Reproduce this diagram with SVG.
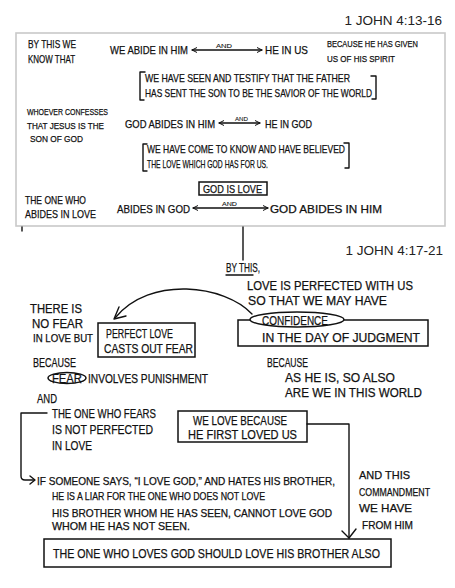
<svg xmlns="http://www.w3.org/2000/svg" width="455" height="588" viewBox="0 0 455 588">
<defs>
<style>
text{font-family:"Liberation Sans",Arial,sans-serif;fill:#111;stroke:#111;stroke-width:0.25;}
.s{font-size:11px;}
.sl{font-size:9.5px;}
.m{font-size:12.5px;}
.p{font-size:10.5px;}
.c{font-size:11px;}
.t{font-size:6px;stroke-width:0.1;}
.h{font-size:13.5px;fill:#222;stroke:none;text-anchor:end;}
.ln{fill:none;stroke:#111;stroke-width:1.4;stroke-linecap:round;stroke-linejoin:round;}
.bx{fill:#fff;stroke:#111;stroke-width:1.5;}
</style>
<marker id="ah" viewBox="0 0 6 6" refX="5.5" refY="3" markerWidth="6" markerHeight="6" orient="auto-start-reverse" markerUnits="userSpaceOnUse">
<path d="M0.5,0.5 L5.5,3 L0.5,5.5" fill="none" stroke="#111" stroke-width="1"/>
</marker>
</defs>
<rect width="455" height="588" fill="#fff"/>

<text class="h" x="442" y="25">1 JOHN 4:13-16</text>

<g id="box1">
<rect x="16" y="33" width="429" height="193" fill="#fff" stroke="#c9c9c9" stroke-width="1.6"/>
</g>

<g id="row1">
<text class="s" x="28" y="48" textLength="48" lengthAdjust="spacingAndGlyphs">BY THIS WE</text>
<text class="s" x="28" y="63" textLength="47" lengthAdjust="spacingAndGlyphs">KNOW THAT</text>
<text class="s" x="110" y="54" textLength="78" lengthAdjust="spacingAndGlyphs">WE ABIDE IN HIM</text>
<text class="t" x="216" y="48" textLength="16" lengthAdjust="spacingAndGlyphs">AND</text>
<text class="s" x="265" y="54" textLength="43" lengthAdjust="spacingAndGlyphs">HE IN US</text>
<text class="sl" x="327" y="47" textLength="91" lengthAdjust="spacingAndGlyphs">BECAUSE HE HAS GIVEN</text>
<text class="sl" x="327" y="62" textLength="68" lengthAdjust="spacingAndGlyphs">US OF HIS SPIRIT</text>
</g>

<g id="bracket1">
<polyline class="ln" points="145,72 140,72 140,100 144,100"/>
<polyline class="ln" points="371,76 376,76 376,99 372,99"/>
<text class="s" x="145" y="82" textLength="205" lengthAdjust="spacingAndGlyphs">WE HAVE SEEN AND TESTIFY THAT THE FATHER</text>
<text class="s" x="145" y="97" textLength="227" lengthAdjust="spacingAndGlyphs">HAS SENT THE SON TO BE THE SAVIOR OF THE WORLD</text>
</g>

<g id="row2">
<text class="sl" x="27" y="115" textLength="81" lengthAdjust="spacingAndGlyphs">WHOEVER CONFESSES</text>
<text class="sl" x="27" y="129" textLength="77" lengthAdjust="spacingAndGlyphs">THAT JESUS IS THE</text>
<text class="sl" x="30" y="142" textLength="53" lengthAdjust="spacingAndGlyphs">SON OF GOD</text>
<text class="s" x="125" y="128" textLength="90" lengthAdjust="spacingAndGlyphs">GOD ABIDES IN HIM</text>
<text class="t" x="235" y="121" textLength="13" lengthAdjust="spacingAndGlyphs">AND</text>
<text class="s" x="265" y="128" textLength="47" lengthAdjust="spacingAndGlyphs">HE IN GOD</text>
</g>

<g id="bracket2">
<polyline class="ln" points="147,144 143,144 143,171 147,171"/>
<polyline class="ln" points="344,143 349,143 349,168 345,168"/>
<text class="s" x="147" y="153" textLength="198" lengthAdjust="spacingAndGlyphs">WE HAVE COME TO KNOW AND HAVE BELIEVED</text>
<text class="s" x="147" y="168" textLength="121" lengthAdjust="spacingAndGlyphs">THE LOVE WHICH GOD HAS FOR US.</text>
</g>

<g id="godislove">
<rect class="bx" x="199" y="182" width="68" height="13"/>
<text class="s" x="203" y="193" textLength="59" lengthAdjust="spacingAndGlyphs">GOD IS LOVE</text>
</g>

<g id="row3">
<text class="s" x="25" y="204" textLength="61" lengthAdjust="spacingAndGlyphs">THE ONE WHO</text>
<text class="s" x="25" y="218" textLength="71" lengthAdjust="spacingAndGlyphs">ABIDES IN LOVE</text>
<text class="s" x="117" y="213" textLength="73" lengthAdjust="spacingAndGlyphs">ABIDES IN GOD</text>
<text class="t" x="222" y="206" textLength="15" lengthAdjust="spacingAndGlyphs">AND</text>
<text class="s" x="270" y="213" textLength="112" lengthAdjust="spacingAndGlyphs">GOD ABIDES IN HIM</text>
</g>

<text class="h" x="443" y="255">1 JOHN 4:17-21</text>

<g id="bythis">
<text class="m" x="226" y="272" textLength="34" lengthAdjust="spacingAndGlyphs">BY THIS,</text>
<line class="ln" x1="226" y1="275" x2="253" y2="275"/>
<text class="m" x="247" y="290" textLength="166" lengthAdjust="spacingAndGlyphs">LOVE IS PERFECTED WITH US</text>
<text class="m" x="248" y="305" textLength="139" lengthAdjust="spacingAndGlyphs">SO THAT WE MAY HAVE</text>
</g>

<g id="confidence">
<rect class="bx" x="238" y="320" width="190" height="26"/>
<ellipse cx="297" cy="319.5" rx="47" ry="7.5" fill="#fff" stroke="#111" stroke-width="1.5"/>
<text class="m" x="262" y="325" textLength="66" lengthAdjust="spacingAndGlyphs">CONFIDENCE</text>
<text class="m" x="262" y="342" textLength="158" lengthAdjust="spacingAndGlyphs">IN THE DAY OF JUDGMENT</text>
</g>

<g id="nofear">
<text class="m" x="30" y="313" textLength="52" lengthAdjust="spacingAndGlyphs">THERE IS</text>
<text class="m" x="32" y="328" textLength="51" lengthAdjust="spacingAndGlyphs">NO FEAR</text>
<text class="p" x="33" y="342" textLength="60" lengthAdjust="spacingAndGlyphs">IN LOVE BUT</text>
</g>

<g id="perfectlove">
<rect class="bx" x="98" y="323" width="97" height="34"/>
<text class="m" x="106" y="338" textLength="67" lengthAdjust="spacingAndGlyphs">PERFECT LOVE</text>
<text class="m" x="104" y="353" textLength="89" lengthAdjust="spacingAndGlyphs">CASTS OUT FEAR</text>
</g>

<g id="fearpunish">
<text class="m" x="33" y="367" textLength="43" lengthAdjust="spacingAndGlyphs">BECAUSE</text>
<ellipse cx="67" cy="378" rx="19" ry="5.5" fill="none" stroke="#111" stroke-width="1.5"/>
<text class="m" x="52" y="383" textLength="30" lengthAdjust="spacingAndGlyphs">FEAR</text>
<text class="m" x="88" y="383" textLength="120" lengthAdjust="spacingAndGlyphs">INVOLVES PUNISHMENT</text>
<text class="m" x="37" y="403" textLength="20" lengthAdjust="spacingAndGlyphs">AND</text>
</g>

<g id="onewhofears">
<text class="m" x="52" y="418" textLength="104" lengthAdjust="spacingAndGlyphs">THE ONE WHO FEARS</text>
<text class="m" x="52" y="434" textLength="101" lengthAdjust="spacingAndGlyphs">IS NOT PERFECTED</text>
<text class="m" x="52" y="450" textLength="40" lengthAdjust="spacingAndGlyphs">IN LOVE</text>
</g>

<g id="asheis">
<text class="m" x="267" y="367" textLength="41" lengthAdjust="spacingAndGlyphs">BECAUSE</text>
<text class="m" x="285" y="382" textLength="110" lengthAdjust="spacingAndGlyphs">AS HE IS, SO ALSO</text>
<text class="m" x="285" y="397" textLength="137" lengthAdjust="spacingAndGlyphs">ARE WE IN THIS WORLD</text>
</g>

<g id="welove">
<rect class="bx" x="178" y="411" width="129" height="31"/>
<text class="m" x="193" y="425" textLength="94" lengthAdjust="spacingAndGlyphs">WE LOVE BECAUSE</text>
<text class="m" x="188" y="439" textLength="109" lengthAdjust="spacingAndGlyphs">HE FIRST LOVED US</text>
</g>

<g id="commandment">
<text class="c" x="359" y="479" textLength="51" lengthAdjust="spacingAndGlyphs">AND THIS</text>
<text class="c" x="359" y="496" textLength="71" lengthAdjust="spacingAndGlyphs">COMMANDMENT</text>
<text class="c" x="359" y="512" textLength="53" lengthAdjust="spacingAndGlyphs">WE HAVE</text>
<text class="c" x="362" y="529" textLength="51" lengthAdjust="spacingAndGlyphs">FROM HIM</text>
</g>

<g id="ifsomeone">
<text class="p" x="37" y="485" textLength="298" lengthAdjust="spacingAndGlyphs">IF SOMEONE SAYS, “I LOVE GOD,” AND HATES HIS BROTHER,</text>
<text class="p" x="52" y="500" textLength="213" lengthAdjust="spacingAndGlyphs">HE IS A LIAR FOR THE ONE WHO DOES NOT LOVE</text>
<text class="p" x="52" y="517" textLength="280" lengthAdjust="spacingAndGlyphs">HIS BROTHER WHOM HE HAS SEEN, CANNOT LOVE GOD</text>
<text class="p" x="52" y="530" textLength="138" lengthAdjust="spacingAndGlyphs">WHOM HE HAS NOT SEEN.</text>
</g>

<g id="lovebrother">
<rect class="bx" x="44" y="539" width="347" height="28"/>
<text class="m" x="53" y="558" textLength="327" lengthAdjust="spacingAndGlyphs">THE ONE WHO LOVES GOD SHOULD LOVE HIS BROTHER ALSO</text>
</g>

<g id="connectors">
<line class="ln" x1="192" y1="50" x2="262" y2="50" marker-start="url(#ah)" marker-end="url(#ah)"/>
<line class="ln" x1="219" y1="123" x2="260" y2="123" marker-start="url(#ah)" marker-end="url(#ah)"/>
<line class="ln" x1="193" y1="208" x2="268" y2="208" marker-start="url(#ah)" marker-end="url(#ah)"/>
<line class="ln" x1="22" y1="227" x2="22" y2="231"/>
<line class="ln" x1="243" y1="227" x2="243" y2="260"/>
<path class="ln" d="M252,314 C225,285 150,275 115,318"/>
<polyline class="ln" points="119,307 114,319 126,316"/>
<path class="ln" d="M47,413 H21 V476 Q21,480 25,480 H34"/>
<polyline class="ln" points="30,476 35,480 30,484"/>
<polyline class="ln" points="307,424 349,424 349,538"/>
<polyline class="ln" points="342,531 349,538 356,529"/>
</g>
</svg>
